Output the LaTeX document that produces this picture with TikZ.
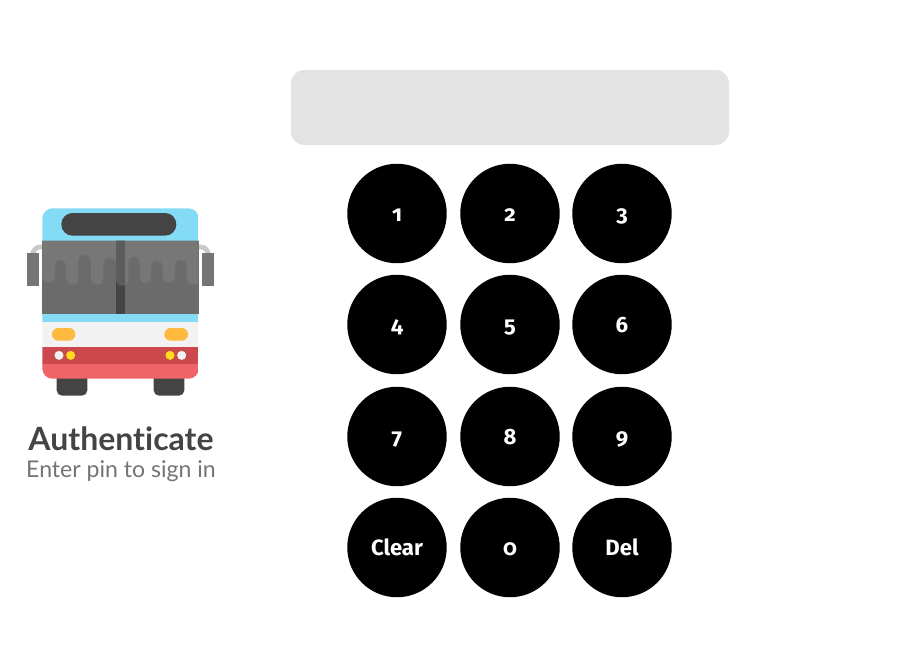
\documentclass[tikz,border=0pt]{standalone}
\usepackage{fontspec}
\setmainfont[Ligatures=NoCommon]{Lato}
\newfontfamily\keyfont[Numbers=OldStyle]{Fira Sans}
\definecolor{panel}{HTML}{E3E3E3}
\definecolor{busblue}{HTML}{84DBF5}
\definecolor{busdark}{HTML}{444444}
\definecolor{busgray}{HTML}{6B6B6B}
\definecolor{buslight}{HTML}{777777}
\definecolor{busbarlight}{HTML}{5C5C5C}
\definecolor{busmirror}{HTML}{757575}
\definecolor{busarm}{HTML}{C9C9C9}
\definecolor{buswhite}{HTML}{F2F2F2}
\definecolor{busred}{HTML}{CB484C}
\definecolor{buspink}{HTML}{EF6567}
\definecolor{busamber}{HTML}{FFB93F}
\definecolor{busyellow}{HTML}{FFDC1E}
\definecolor{titlecol}{HTML}{444444}
\definecolor{subcol}{HTML}{747474}
\tikzset{
  keybtn/.style={circle,fill=black,draw=none,minimum size=74.6pt,inner sep=0pt,text=white,
    font=\keyfont\bfseries\fontsize{16.6}{16.6}\selectfont,text height=12pt,text depth=0pt},
  lamp/.style={circle,inner sep=0pt,minimum size=6.8pt}
}
\newcommand{\dripshape}{(82,137) -- (551,137) -- (551,268)
    [rounded corners=4pt] -- (515,268) -- (515,195) -- (480,195) -- (480,263) -- (443,263) -- (443,197) -- (408,197) -- (408,265) -- (375,265) -- (375,185) -- (340,185) -- (340,272) -- (303,272) -- (303,188) -- (265,188) -- (265,268) -- (228,268) -- (228,180) -- (190,180) -- (190,268) -- (153,268) -- (153,195) -- (120,195) -- (120,263) -- (82,263)
    [sharp corners] -- cycle}
\begin{document}
\begin{tikzpicture}[x=0.75pt,y=-0.75pt]
\useasboundingbox (0,0) rectangle (910,671);
\fill[white] (0,0) rectangle (910,671);
\fill[panel,rounded corners=10pt] (291,70) rectangle (729,145);
\node[keybtn] (k1) at (397,213.5) {1};
\node[keybtn] (k2) at (510,213.5) {2};
\node[keybtn] (k3) at (622,213.5) {3};
\node[keybtn] (k4) at (397,324.5) {4};
\node[keybtn] (k5) at (510,324.5) {5};
\node[keybtn] (k6) at (622,324.5) {6};
\node[keybtn] (k7) at (397,436.5) {7};
\node[keybtn] (k8) at (510,436.5) {8};
\node[keybtn] (k9) at (622,436.5) {9};
\node[keybtn] (kclear) at (397,547.5) {Clear};
\node[keybtn] (k0) at (510,547.5) {0};
\node[keybtn] (kdel) at (622,547.5) {Del};
\node[text=titlecol,font=\bfseries\fontsize{24}{24}\selectfont,anchor=base] (title) at (121,450) {Authenticate};
\node[text=subcol,font=\fontsize{17.3}{17.3}\selectfont,anchor=base] (sub) at (121,477.5) {Enter pin to sign in};
\begin{scope}[shift={(15,195)},x=0.25pt,y=-0.25pt]
  % wheels
  \fill[busdark,rounded corners=4pt] (125,530) rectangle (217,602);
  \fill[busdark,rounded corners=4pt] (416,530) rectangle (508,602);
  % mirror arms
  \draw[busarm,line width=3.6pt] (90,156) -- (75,156) to[out=180,in=80] (52,180);
  \draw[busarm,line width=3.6pt] (543,156) -- (558,156) to[out=0,in=100] (581,180);
  \fill[busmirror] (36,174) rectangle (72,273);
  \fill[busmirror] (560,174) rectangle (596,273);
  % body
  \begin{scope}
    \clip[rounded corners=7.5pt] (82,40) rectangle (551,551);
    \fill[busblue] (82,40) rectangle (551,381);
    \fill[buswhite] (82,381) rectangle (551,455);
    \fill[busred] (82,455) rectangle (551,506);
    \fill[buspink] (82,506) rectangle (551,551);
  \end{scope}
  % display
  \fill[busdark,rounded corners=8.4pt] (139,54) rectangle (484,122);
  % windscreen
  \fill[busgray] (82,137) rectangle (551,356);
  \fill[buslight] \dripshape;
  \fill[busdark] (303,137) rectangle (330,356);
  \begin{scope}
    \clip (303,137) rectangle (330,356);
    \fill[busbarlight] \dripshape;
  \end{scope}
  % lamps
  \fill[busamber,rounded corners=4.7pt] (111,399) rectangle (181,437);
  \fill[busamber,rounded corners=4.7pt] (448,399) rectangle (519,437);
  \node[lamp,fill=buswhite] (l1) at (132,481) {};
  \node[lamp,fill=busyellow] (l2) at (167,481) {};
  \node[lamp,fill=busyellow] (l3) at (465,481) {};
  \node[lamp,fill=buswhite] (l4) at (500,481) {};
\end{scope}
\end{tikzpicture}
\end{document}
